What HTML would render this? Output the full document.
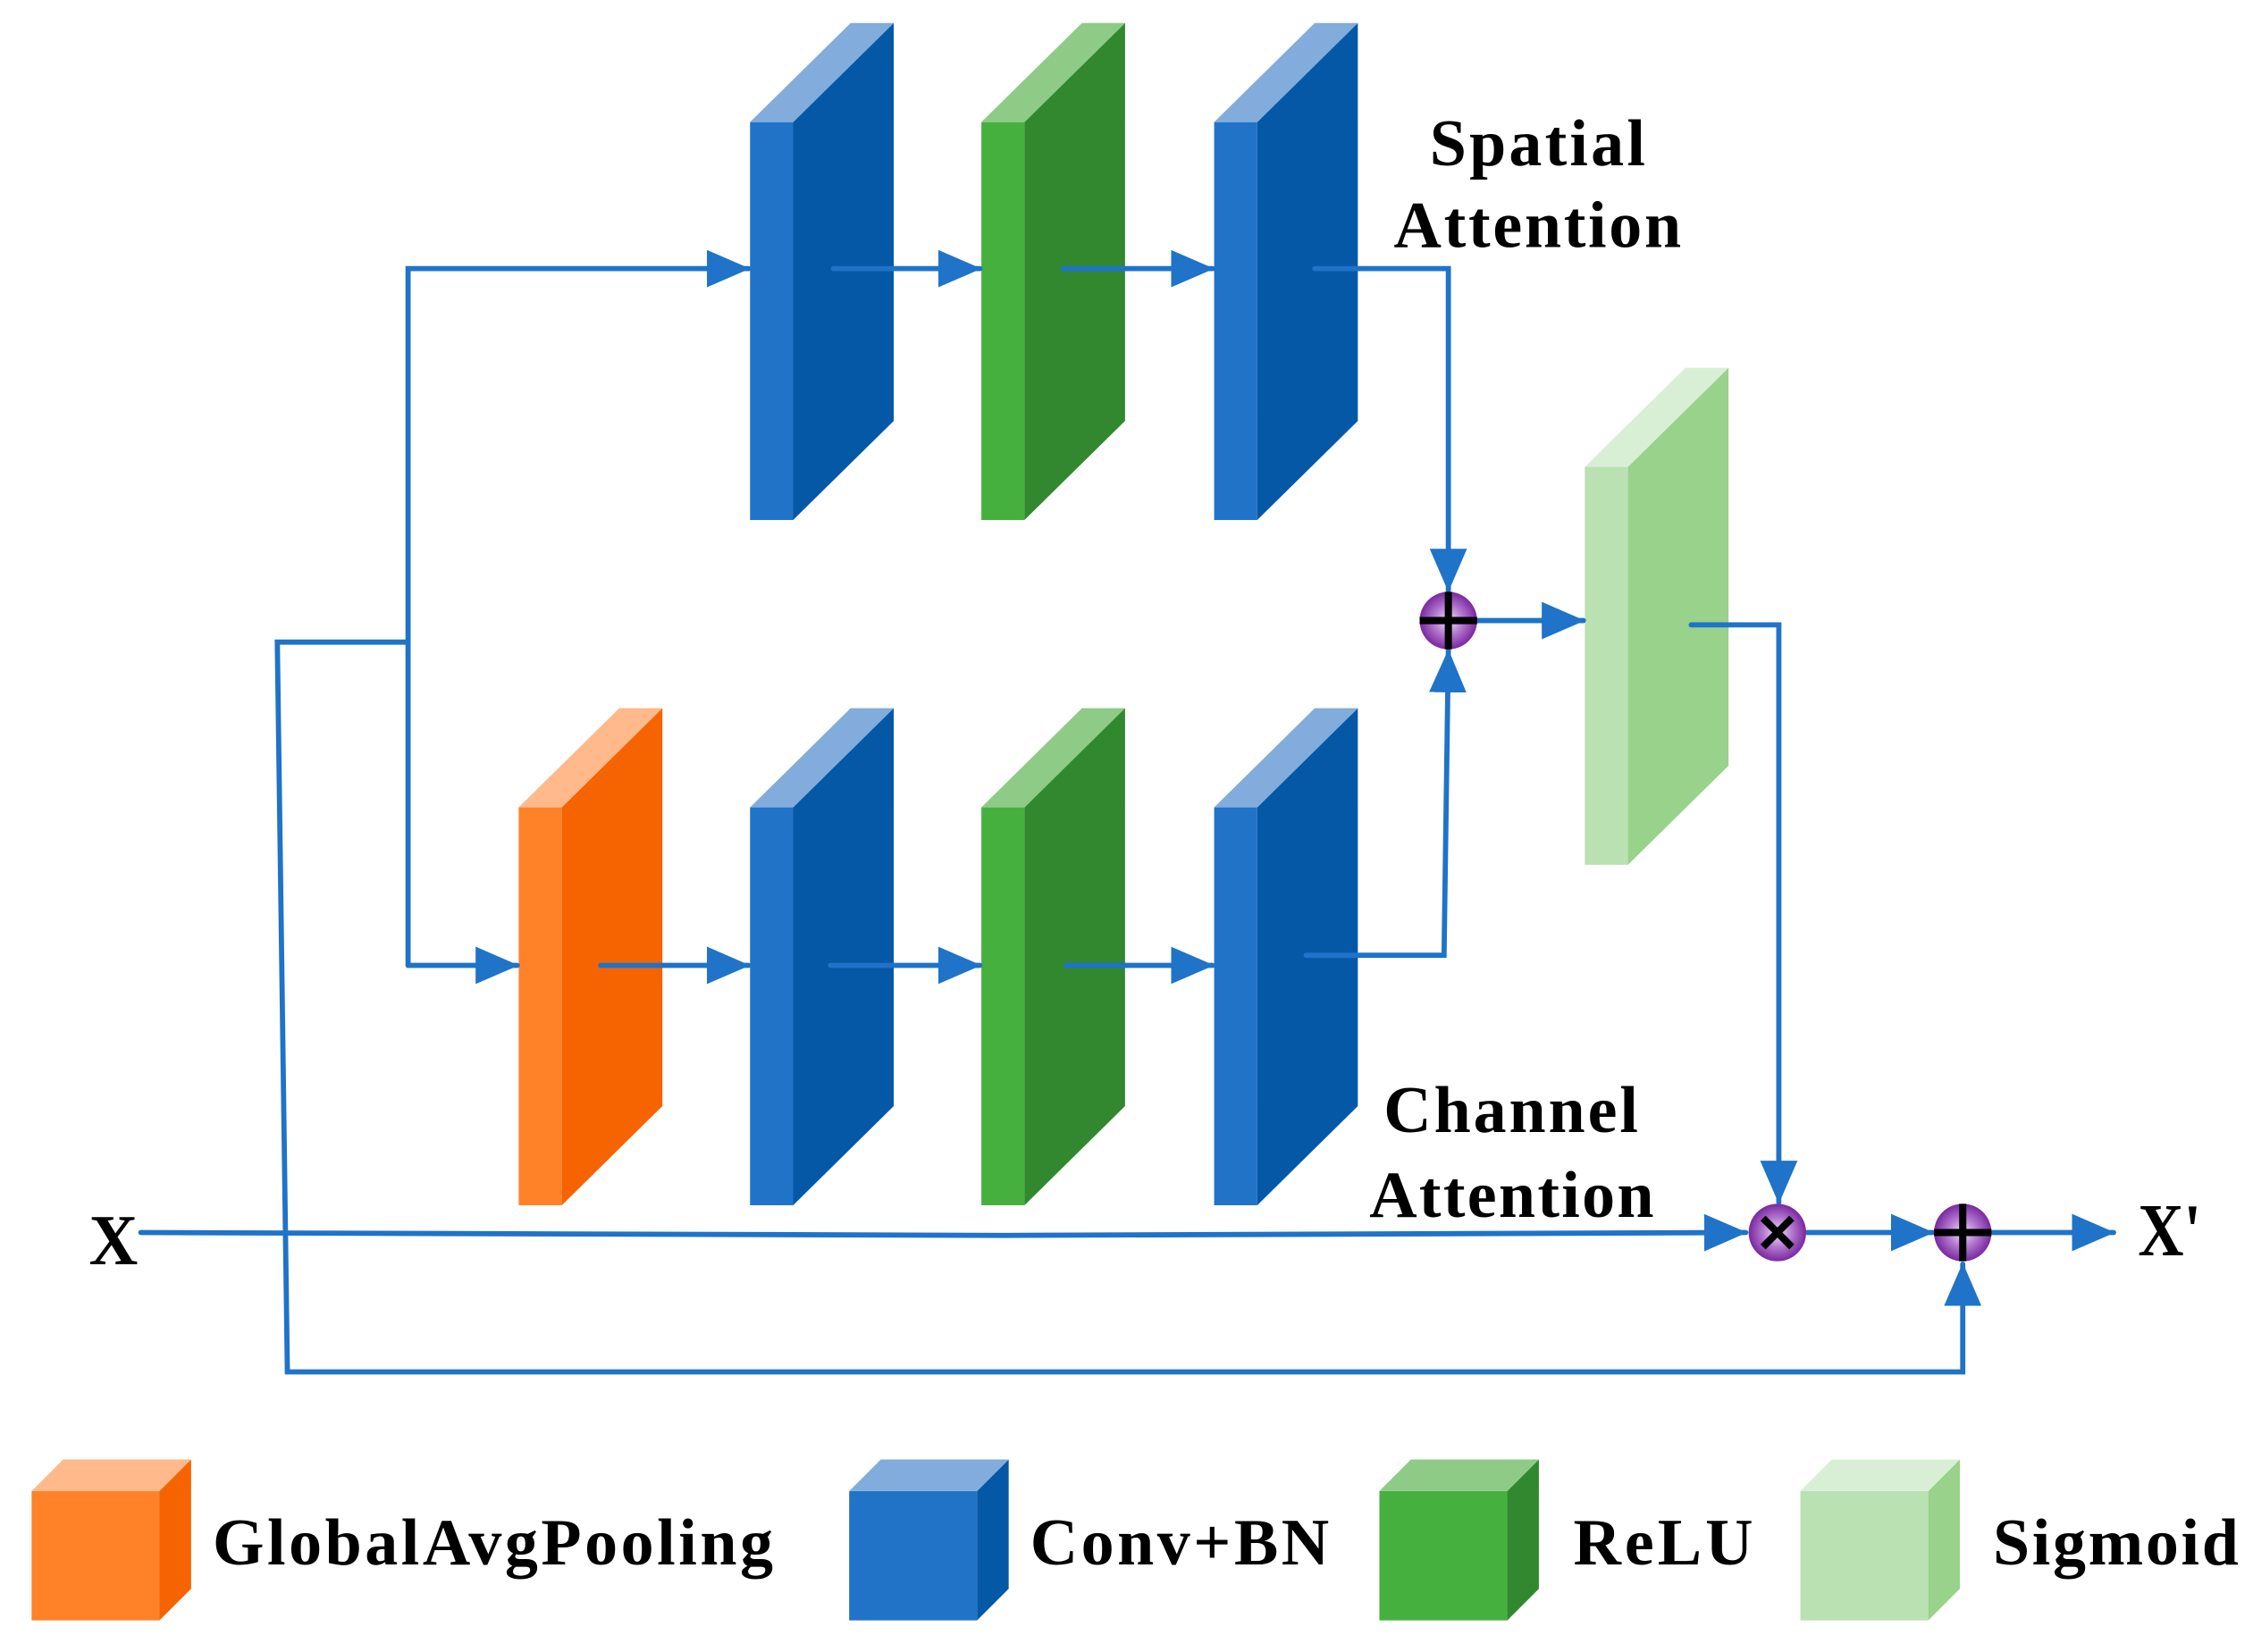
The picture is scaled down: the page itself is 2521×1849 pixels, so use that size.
<!DOCTYPE html>
<html><head><style>html,body{margin:0;padding:0;background:#fff}svg{display:block}</style></head><body>
<svg width="2521" height="1849" viewBox="0 0 1568 1150" preserveAspectRatio="none" xmlns="http://www.w3.org/2000/svg">
<defs>
<radialGradient id="pg" cx="50%" cy="50%" r="50%"><stop offset="0" stop-color="#f0e0f8"/><stop offset="0.5" stop-color="#b47ad0"/><stop offset="1" stop-color="#7a28a0"/></radialGradient>
<marker id="ah" markerWidth="30" markerHeight="26" refX="29" refY="13" orient="auto" markerUnits="userSpaceOnUse" viewBox="0 0 30 26"><path d="M0,0 L30,13 L0,26 Z" fill="#1F73C8"/></marker>
</defs>
<g>
<g><rect x="522" y="85" width="30" height="277" fill="#2173C8"/><polygon points="552,85 622,16 622,293 552,362" fill="#0558A5"/><polygon points="522,85 592,16 622,16 552,85" fill="#82ACDC"/></g>
<g><rect x="683" y="85" width="30" height="277" fill="#46B03E"/><polygon points="713,85 783,16 783,293 713,362" fill="#32882F"/><polygon points="683,85 753,16 783,16 713,85" fill="#8DCB86"/></g>
<g><rect x="845" y="85" width="30" height="277" fill="#2173C8"/><polygon points="875,85 945,16 945,293 875,362" fill="#0558A5"/><polygon points="845,85 915,16 945,16 875,85" fill="#82ACDC"/></g>
<g><rect x="361" y="562" width="30" height="277" fill="#FF8228"/><polygon points="391,562 461,493 461,770 391,839" fill="#F56400"/><polygon points="361,562 431,493 461,493 391,562" fill="#FFB98A"/></g>
<g><rect x="522" y="562" width="30" height="277" fill="#2173C8"/><polygon points="552,562 622,493 622,770 552,839" fill="#0558A5"/><polygon points="522,562 592,493 622,493 552,562" fill="#82ACDC"/></g>
<g><rect x="683" y="562" width="30" height="277" fill="#46B03E"/><polygon points="713,562 783,493 783,770 713,839" fill="#32882F"/><polygon points="683,562 753,493 783,493 713,562" fill="#8DCB86"/></g>
<g><rect x="845" y="562" width="30" height="277" fill="#2173C8"/><polygon points="875,562 945,493 945,770 875,839" fill="#0558A5"/><polygon points="845,562 915,493 945,493 875,562" fill="#82ACDC"/></g>
<g><rect x="1103" y="325" width="30" height="277" fill="#B9E1B2"/><polygon points="1133,325 1203,256 1203,533 1133,602" fill="#98D28B"/><polygon points="1103,325 1173,256 1203,256 1133,325" fill="#D9EFD5"/></g>
</g>
<g fill="none" stroke="#1F73C8" stroke-width="3.6" stroke-linecap="round">
<polyline points="284,672 284,187 521,187" marker-end="url(#ah)"/>
<line x1="580" y1="187" x2="682" y2="187" marker-end="url(#ah)"/>
<line x1="740" y1="187" x2="844" y2="187" marker-end="url(#ah)"/>
<polyline points="915,187 1008,187 1008,411" marker-end="url(#ah)"/>
<line x1="284" y1="672" x2="360" y2="672" marker-end="url(#ah)"/>
<line x1="418" y1="672" x2="521" y2="672" marker-end="url(#ah)"/>
<line x1="578" y1="672" x2="682" y2="672" marker-end="url(#ah)"/>
<line x1="742" y1="672" x2="844" y2="672" marker-end="url(#ah)"/>
<polyline points="909,665 1005,665 1008,453" marker-end="url(#ah)"/>
<line x1="1028" y1="432" x2="1102" y2="432" marker-end="url(#ah)"/>
<polyline points="1177,435 1238,435 1238,837" marker-end="url(#ah)"/>
<polyline points="284,447 193,447 200,955 1366,955 1366,880" marker-end="url(#ah)"/>
<polyline points="98,858 700,860 1215,858" marker-end="url(#ah)"/>
<line x1="1258" y1="858" x2="1345" y2="858" marker-end="url(#ah)"/>
<line x1="1387" y1="858" x2="1471" y2="858" marker-end="url(#ah)"/>
</g>
<g>
<circle cx="1008" cy="432" r="20" fill="url(#pg)"/>
<line x1="988" y1="432" x2="1028" y2="432" stroke="#000" stroke-width="5"/><line x1="1008" y1="412" x2="1008" y2="452" stroke="#000" stroke-width="5"/>
<circle cx="1237" cy="858" r="20" fill="url(#pg)"/>
<line x1="1227" y1="848" x2="1247" y2="868" stroke="#000" stroke-width="5"/><line x1="1247" y1="848" x2="1227" y2="868" stroke="#000" stroke-width="5"/>
<circle cx="1366" cy="858" r="20" fill="url(#pg)"/>
<line x1="1346" y1="858" x2="1386" y2="858" stroke="#000" stroke-width="5"/><line x1="1366" y1="838" x2="1366" y2="878" stroke="#000" stroke-width="5"/>
</g>
<g font-family="Liberation Serif, serif" font-weight="bold" fill="#000" lengthAdjust="spacing">
<text x="995" y="115" font-size="46" textLength="150" lengthAdjust="spacing">Spatial</text>
<text x="970" y="172" font-size="46" textLength="200" lengthAdjust="spacing">Attention</text>
<text x="963" y="788" font-size="46" textLength="177" lengthAdjust="spacing">Channel</text>
<text x="953" y="847" font-size="46" textLength="198" lengthAdjust="spacing">Attention</text>
<text x="62" y="880" font-size="50" textLength="34" lengthAdjust="spacingAndGlyphs">X</text>
<text x="1488" y="874" font-size="52" textLength="44" lengthAdjust="spacingAndGlyphs">X'</text>
<text x="148" y="1089" font-size="46" textLength="390" lengthAdjust="spacing">GlobalAvgPooling</text>
<text x="717" y="1089" font-size="46" textLength="208" lengthAdjust="spacing">Conv+BN</text>
<text x="1095" y="1089" font-size="46" textLength="125" lengthAdjust="spacing">ReLU</text>
<text x="1387" y="1089" font-size="46" textLength="171" lengthAdjust="spacing">Sigmoid</text>
</g>
<g>
<rect x="22" y="1038" width="89" height="90" fill="#FF8228"/><polygon points="111,1038 133,1016 133,1106 111,1128" fill="#F56400"/><polygon points="22,1038 44,1016 133,1016 111,1038" fill="#FFB98A"/>
<rect x="591" y="1038" width="89" height="90" fill="#2173C8"/><polygon points="680,1038 702,1016 702,1106 680,1128" fill="#0558A5"/><polygon points="591,1038 613,1016 702,1016 680,1038" fill="#82ACDC"/>
<rect x="960" y="1038" width="89" height="90" fill="#46B03E"/><polygon points="1049,1038 1071,1016 1071,1106 1049,1128" fill="#32882F"/><polygon points="960,1038 982,1016 1071,1016 1049,1038" fill="#8DCB86"/>
<rect x="1253" y="1038" width="89" height="90" fill="#B9E1B2"/><polygon points="1342,1038 1364,1016 1364,1106 1342,1128" fill="#98D28B"/><polygon points="1253,1038 1275,1016 1364,1016 1342,1038" fill="#D9EFD5"/>
</g>
</svg>
</body></html>
